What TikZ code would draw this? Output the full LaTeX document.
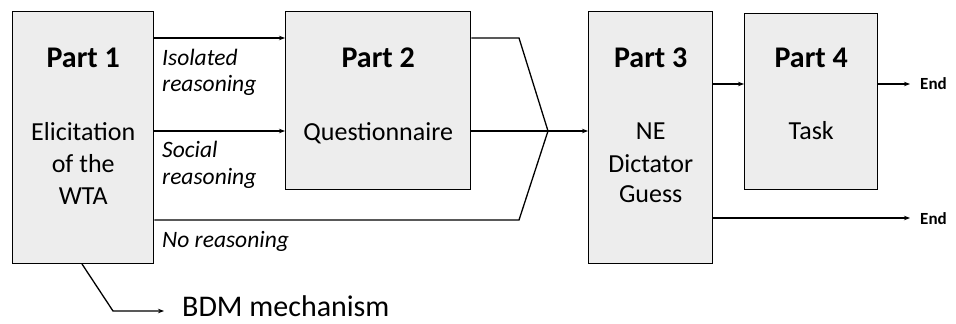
\documentclass[tikz,border=0pt]{standalone}
\usepackage{fontspec}
\setmainfont{Carlito}
\usetikzlibrary{arrows.meta}
\begin{document}
\begin{tikzpicture}[x=1pt,y=1pt,
  partbox/.style={draw=black,line width=1.4pt,fill=boxgray,inner sep=0pt,anchor=south west},
  flow/.style={line width=1.3pt,-{Stealth[length=6pt,width=4.5pt]}},
  plain/.style={line width=1.3pt},
  title/.style={font=\fontsize{30}{32}\selectfont\bfseries,inner sep=0pt,anchor=base},
  body/.style={font=\fontsize{26}{28}\selectfont,inner sep=0pt,anchor=base},
  lbl/.style={font=\fontsize{23.5}{26}\selectfont\itshape,inner sep=0pt,anchor=base west},
  endlbl/.style={font=\fontsize{17}{20}\selectfont\bfseries,inner sep=0pt,anchor=base west}]
\definecolor{boxgray}{HTML}{EDEDED}
\useasboundingbox (0,0) rectangle (956,324);

% the four parts
\node[partbox,minimum width=141pt,minimum height=252pt] (p1) at (12,60) {};
\node[partbox,minimum width=185pt,minimum height=178pt] (p2) at (285,134) {};
\node[partbox,minimum width=124pt,minimum height=252pt] (p3) at (588,60) {};
\node[partbox,minimum width=133pt,minimum height=176pt] (p4) at (744,134) {};

% box texts
\node[title] (t1) at (p1.center |- 0,256) {Part 1};
\node[body] (b1a) at (p1.center |- 0,183) {Elicitation};
\node[body] (b1b) at (p1.center |- 0,151) {of the};
\node[body] (b1c) at (p1.center |- 0,119) {WTA};
\node[title] (t2) at (p2.center |- 0,256) {Part 2};
\node[body] (b2) at (p2.center |- 0,183) {Questionnaire};
\node[title] (t3) at (p3.center |- 0,256) {Part 3};
\node[body] (b3a) at (p3.center |- 0,184) {NE};
\node[body] (b3b) at (p3.center |- 0,151) {Dictator};
\node[body] (b3c) at (p3.center |- 0,121) {Guess};
\node[title] (t4) at (p4.center |- 0,256) {Part 4};
\node[body] (b4) at (p4.center |- 0,184) {Task};

% treatment labels
\node[lbl] (li1) at (162,258) {Isolated};
\node[lbl] (li2) at (162,232) {reasoning};
\node[lbl] (ls1) at (162,166) {Social};
\node[lbl] (ls2) at (162,139) {reasoning};
\node[lbl] (ln) at (162,76) {No reasoning};

% merge point and bends
\coordinate (merge) at (548,193);
\coordinate (bendtop) at (519,286);
\coordinate (bendlow) at (519,104);

% part 1 to part 2
\draw[flow] (p1.east |- 0,286) -- (p2.west |- 0,286);
\draw[flow] (p1.east |- 0,193) -- (p2.west |- 0,193);
% into part 3
\draw[plain,line join=miter] (p2.east |- bendtop) -- (bendtop) -- (merge);
\draw[plain] (p2.east |- merge) -- (merge);
\draw[plain,line join=miter] (p1.east |- bendlow) -- (bendlow) -- (merge);
\draw[flow] (merge) -- (p3.west |- merge);

% part 3 onwards
\node[endlbl] (e1) at (920,234) {End};
\node[endlbl] (e2) at (920,99) {End};
\draw[flow] (p3.east |- 0,240) -- (p4.west |- 0,240);
\draw[flow] (p4.east |- 0,240) -- ([xshift=-10pt]e1.west |- 0,240);
\draw[flow] (p3.east |- 0,106) -- ([xshift=-10pt]e2.west |- 0,106);

% BDM
\node[font=\fontsize{30}{33}\selectfont,inner sep=0pt,anchor=base west] (bdm) at (182,7.5) {BDM mechanism};
\coordinate (bdmknee) at (113,13);
\draw[flow] (82,60) -- (bdmknee) -- ([xshift=-18pt]bdm.west |- bdmknee);
\end{tikzpicture}
\end{document}
